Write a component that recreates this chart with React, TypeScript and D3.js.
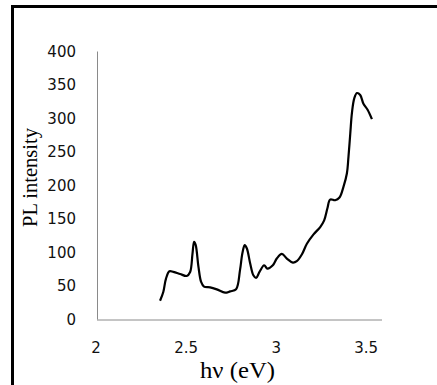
import React, { useRef, useEffect } from "react";
import * as d3 from "d3";

// photon energy (eV)
const energy = [
  2.35, 2.368, 2.383, 2.402, 2.424, 2.461, 2.498, 2.517, 2.53, 2.539, 2.548,
  2.563, 2.578, 2.594, 2.628, 2.665, 2.711, 2.739, 2.772, 2.794, 2.807, 2.82,
  2.832, 2.85, 2.868, 2.883, 2.902, 2.928, 2.946, 2.976, 2.998, 3.026, 3.054,
  3.087, 3.109, 3.137, 3.165, 3.202, 3.239, 3.261, 3.279, 3.294, 3.322, 3.346,
  3.368, 3.387, 3.396, 3.406, 3.415, 3.428, 3.443, 3.461, 3.479, 3.502, 3.526,
];

// PL intensity at each energy
const intensity = [
  28, 41, 61, 72, 71, 68, 65, 71, 98, 116, 111, 79, 56, 49, 48, 45, 40, 42, 45,
  74, 99, 111, 106, 84, 66, 62, 71, 81, 76, 81, 91, 98, 91, 85, 87, 97, 113,
  127, 138, 148, 166, 179, 178, 182, 198, 218, 243, 278, 308, 330, 338, 335,
  322, 313, 299,
];

const xTicks = [2, 2.5, 3, 3.5];
const yTicks = [0, 50, 100, 150, 200, 250, 300, 350, 400];

const xLabel = "h\u03bd (eV)";
const yLabel = "PL intensity";

const W = 437;
const H = 385;

const App: React.FC = () => {
  const svgRef = useRef<SVGSVGElement>(null);

  useEffect(() => {
    const svg = d3.select(svgRef.current);
    svg.selectAll("*").remove();

    const x = d3.scaleLinear().domain([2, 3.582]).range([97, 382]);
    const y = d3.scaleLinear().domain([0, 400]).range([319.5, 51.5]);

    // frame (left + top only)
    svg
      .append("path")
      .attr("d", `M12.5,${H} L12.5,6.5 L${W},6.5`)
      .attr("fill", "none")
      .attr("stroke", "#000")
      .attr("stroke-width", 3);

    // axes lines
    const axisColor = "#8a8a8a";
    svg
      .append("line")
      .attr("x1", x(2) + 0.5)
      .attr("x2", x(2) + 0.5)
      .attr("y1", y(400))
      .attr("y2", y(0))
      .attr("stroke", axisColor);
    svg
      .append("line")
      .attr("x1", x(2))
      .attr("x2", x.range()[1])
      .attr("y1", y(0) + 0.5)
      .attr("y2", y(0) + 0.5)
      .attr("stroke", axisColor);

    // tick labels
    svg
      .append("g")
      .selectAll("text")
      .data(yTicks)
      .enter()
      .append("text")
      .attr("x", 76)
      .attr("y", d => y(d))
      .attr("dy", "0.36em")
      .attr("text-anchor", "end")
      .attr("font-family", "DejaVu Sans")
      .attr("font-size", 15)
      .attr("fill", "#111")
      .text(d => d);

    svg
      .append("g")
      .selectAll("text")
      .data(xTicks)
      .enter()
      .append("text")
      .attr("x", d => x(d) - 1)
      .attr("y", 353)
      .attr("text-anchor", "middle")
      .attr("font-family", "DejaVu Sans")
      .attr("font-size", 15)
      .attr("fill", "#111")
      .text(d => d);

    // axis titles
    svg
      .append("text")
      .attr("x", 237.5)
      .attr("y", 378)
      .attr("text-anchor", "middle")
      .attr("font-family", "Liberation Serif")
      .attr("font-size", 23)
      .attr("textLength", 75)
      .attr("lengthAdjust", "spacingAndGlyphs")
      .text(xLabel);

    svg
      .append("text")
      .attr("transform", "translate(37,177.5) rotate(-90)")
      .attr("text-anchor", "middle")
      .attr("font-family", "Liberation Serif")
      .attr("font-size", 22)
      .attr("textLength", 99)
      .attr("lengthAdjust", "spacingAndGlyphs")
      .text(yLabel);

    // spectrum
    const pts: [number, number][] = energy.map((e, i) => [e, intensity[i]]);
    const line = d3
      .line<[number, number]>()
      .x(d => x(d[0]))
      .y(d => y(d[1]))
      .curve(d3.curveCatmullRom.alpha(0.5));

    svg
      .append("path")
      .datum(pts)
      .attr("d", line)
      .attr("fill", "none")
      .attr("stroke", "#000")
      .attr("stroke-width", 2.2)
      .attr("stroke-linejoin", "round");
  }, []);

  return (
    <svg
      ref={svgRef}
      width={W}
      height={H}
      style={{ position: "absolute", left: 0, top: 0, background: "#fff" }}
    />
  );
};

export default App;
